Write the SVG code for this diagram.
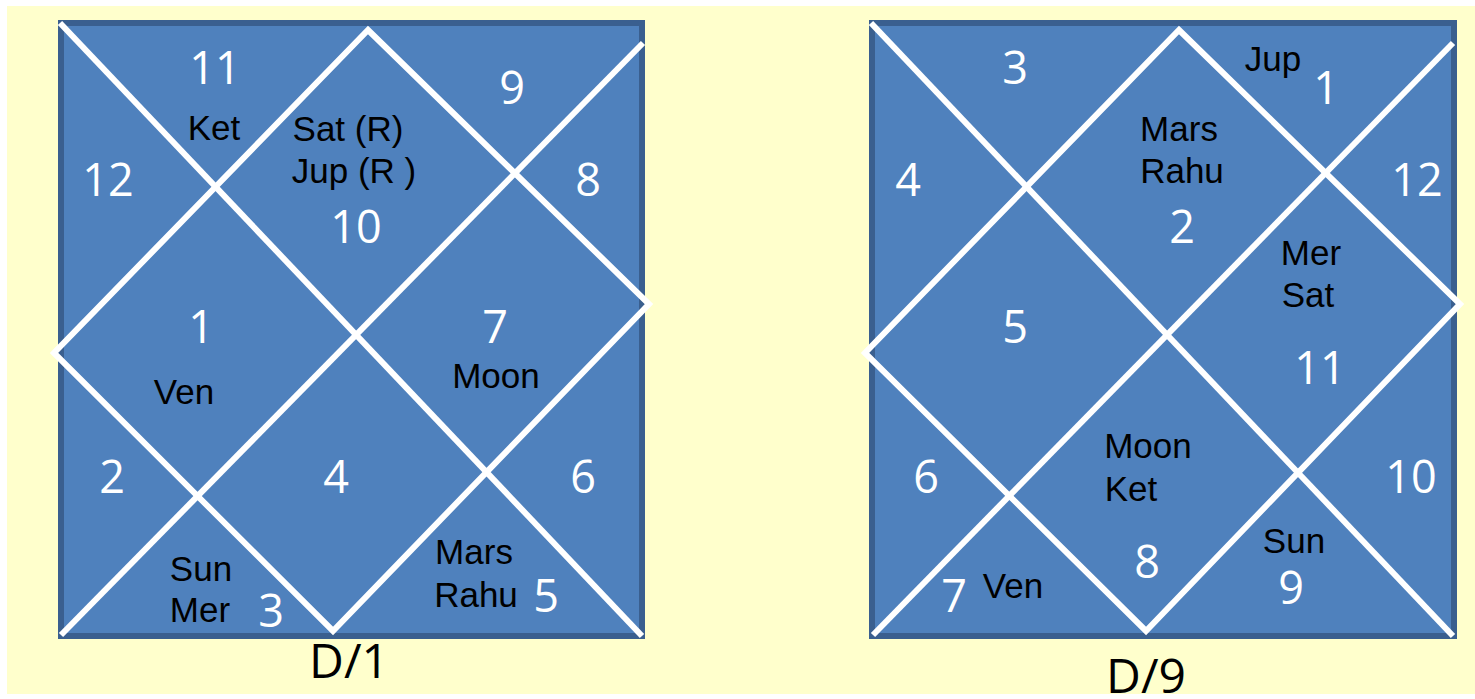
<svg xmlns="http://www.w3.org/2000/svg" width="1475" height="699" viewBox="0 0 1475 699">
<style>
.bg{fill:#FFFFCC}
.box{fill:#4F81BD;stroke:#3A5F8F;stroke-width:6}
.ln{fill:none;stroke:#FFFFFF;stroke-width:6;stroke-linejoin:miter}
.num{font-family:"Open Sans","Noto Sans",sans-serif;font-size:45px;fill:#FFFFFF;text-anchor:middle}
.lab{font-family:"Liberation Sans",Arial,sans-serif;font-size:35px;fill:#000000;text-anchor:middle}
.ttl{font-family:"Open Sans","Noto Sans",sans-serif;font-size:48px;fill:#000000;text-anchor:middle}
</style>
<rect x="0" y="0" width="1475" height="699" fill="#FFFFFF"/>
<rect class="bg" x="7" y="6" width="1468" height="688"/>
<g id="chart-d1">
<rect class="box" x="61" y="23" width="581" height="613"/>
<g id="d1-lines">
<line class="ln" x1="60" y1="23" x2="642" y2="636"/>
<line class="ln" x1="61" y1="635" x2="643" y2="43"/>
<polygon class="ln" points="368,30 649,304 333,631 54,353"/>
</g>
<g id="d1-h11"><text class="num" x="215" y="84">11</text><text class="lab" x="214" y="140">Ket</text></g>
<g id="d1-h10"><text class="lab" x="348" y="141">Sat (R)</text><text class="lab" x="354" y="183">Jup (R )</text><text class="num" x="356" y="243">10</text></g>
<g id="d1-h9"><text class="num" x="512" y="104">9</text></g>
<g id="d1-h12"><text class="num" x="108" y="196">12</text></g>
<g id="d1-h8"><text class="num" x="588" y="196">8</text></g>
<g id="d1-h1"><text class="num" x="201" y="343">1</text><text class="lab" x="184" y="404">Ven</text></g>
<g id="d1-h7"><text class="num" x="495" y="343">7</text><text class="lab" x="496" y="388">Moon</text></g>
<g id="d1-h2"><text class="num" x="112" y="493">2</text></g>
<g id="d1-h4"><text class="num" x="336" y="493">4</text></g>
<g id="d1-h6"><text class="num" x="583" y="493">6</text></g>
<g id="d1-h3"><text class="lab" x="201" y="581">Sun</text><text class="lab" x="200" y="622">Mer</text><text class="num" x="271" y="627">3</text></g>
<g id="d1-h5"><text class="lab" x="474" y="564">Mars</text><text class="lab" x="476" y="607">Rahu</text><text class="num" x="546" y="612">5</text></g>
<text class="ttl" x="349" y="678">D/1</text>
</g>
<g id="chart-d9">
<rect class="box" x="872" y="23" width="582" height="613"/>
<g id="d9-lines">
<line class="ln" x1="871" y1="23" x2="1453" y2="636"/>
<line class="ln" x1="873" y1="635" x2="1453" y2="43"/>
<polygon class="ln" points="1179,30 1460,304 1146,631 865,353"/>
</g>
<g id="d9-h3"><text class="num" x="1015" y="84">3</text></g>
<g id="d9-h1"><text class="lab" x="1273" y="71">Jup</text><text class="num" x="1326" y="104">1</text></g>
<g id="d9-h2"><text class="lab" x="1179" y="141">Mars</text><text class="lab" x="1182" y="183">Rahu</text><text class="num" x="1182" y="243">2</text></g>
<g id="d9-h4"><text class="num" x="908" y="196">4</text></g>
<g id="d9-h12"><text class="num" x="1417" y="196">12</text></g>
<g id="d9-h11"><text class="lab" x="1311" y="265">Mer</text><text class="lab" x="1308" y="307">Sat</text><text class="num" x="1320" y="384">11</text></g>
<g id="d9-h5"><text class="num" x="1015" y="343">5</text></g>
<g id="d9-h8"><text class="lab" x="1148" y="458">Moon</text><text class="lab" x="1131" y="501">Ket</text><text class="num" x="1147" y="578">8</text></g>
<g id="d9-h6"><text class="num" x="926" y="493">6</text></g>
<g id="d9-h10"><text class="num" x="1411" y="493">10</text></g>
<g id="d9-h9"><text class="lab" x="1294" y="553">Sun</text><text class="num" x="1291" y="604">9</text></g>
<g id="d9-h7"><text class="num" x="954" y="612">7</text><text class="lab" x="1013" y="598">Ven</text></g>
<text class="ttl" x="1146" y="693">D/9</text>
</g>
</svg>
